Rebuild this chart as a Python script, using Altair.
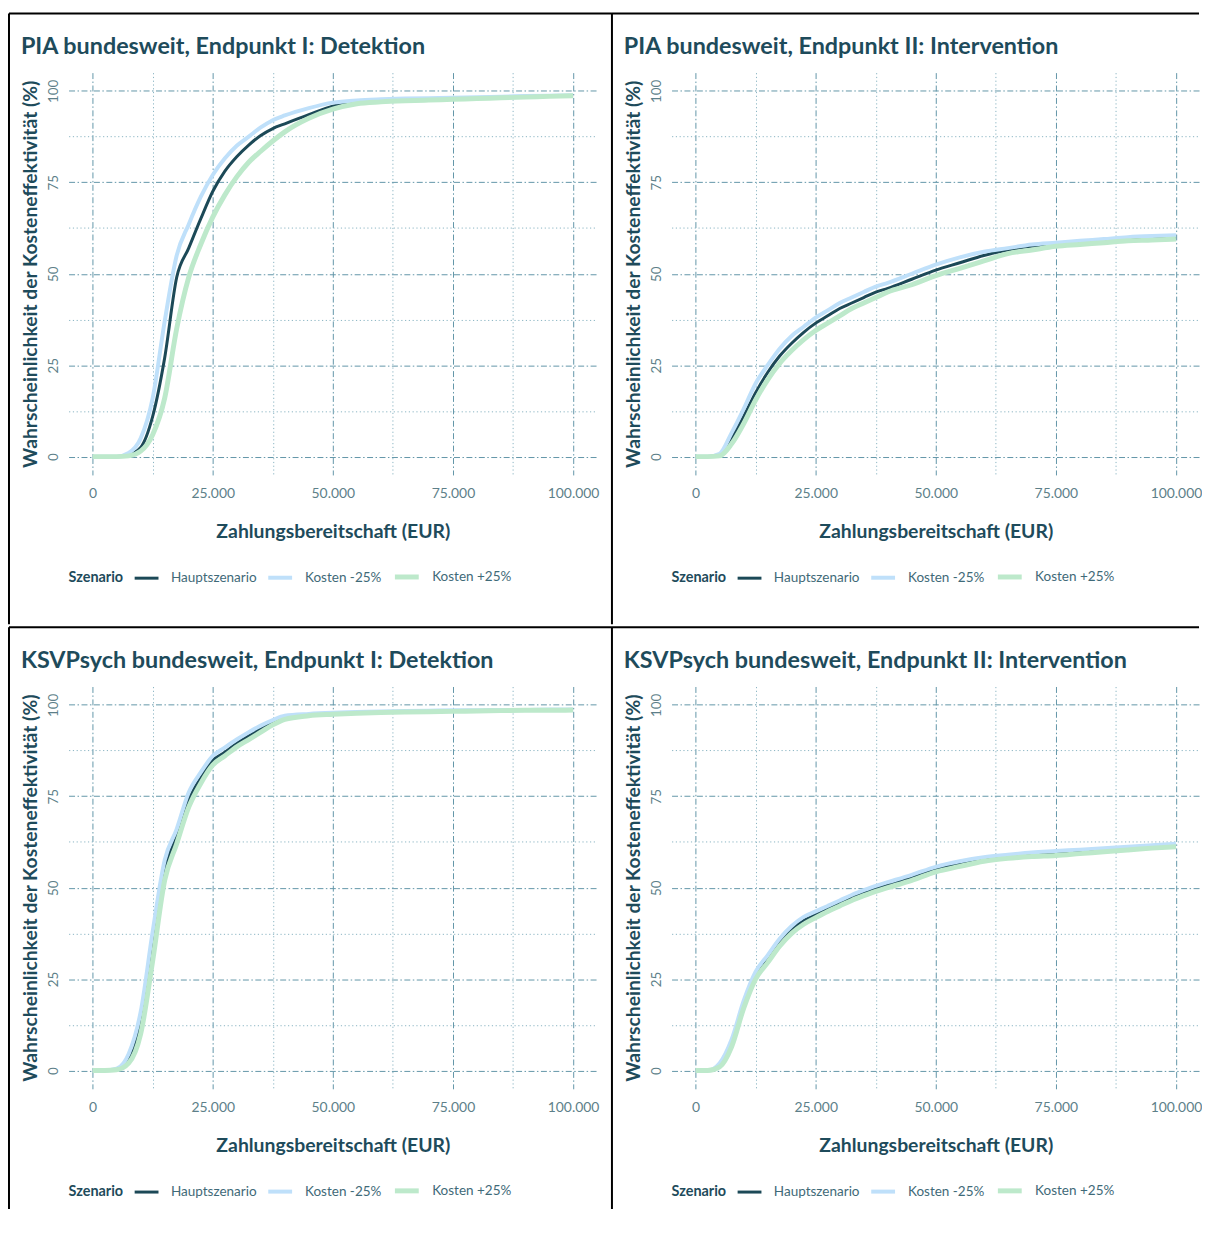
import altair as alt
import pandas as pd

# ---------------- data ----------------
X = [0, 2500, 5000, 7500, 10000, 12500, 15000, 17500, 20000, 22500, 25000,
     27500, 30000, 32500, 35000, 37500, 40000, 45000, 50000, 55000, 60000,
     65000, 70000, 75000, 80000, 85000, 90000, 95000, 100000]

SERIES = ["Hauptszenario", "Kosten -25%", "Kosten +25%"]

TITLES = [
    "PIA bundesweit, Endpunkt I: Detektion",
    "PIA bundesweit, Endpunkt II: Intervention",
    "KSVPsych bundesweit, Endpunkt I: Detektion",
    "KSVPsych bundesweit, Endpunkt II: Intervention",
]

# PIA, Endpunkt I
PIA_DET_HAUPT = [0, 0, 0, 0.5, 2.5, 11, 27, 49, 57, 65, 72.5, 78, 82, 85.2, 87.8, 89.7, 91,
                 93.5, 95.8, 96.8, 97.2, 97.5, 97.7, 97.9, 98.1, 98.3, 98.4, 98.6, 98.7]
PIA_DET_MINUS = [0, 0, 0, 1, 5, 16, 37, 55, 63.5, 71, 77, 81.5, 85, 87.5, 90, 92, 93.3,
                 95.3, 96.8, 97.4, 97.7, 97.9, 98.0, 98.1, 98.3, 98.4, 98.6, 98.7, 98.8]
PIA_DET_PLUS = [0, 0, 0, 0.2, 1.5, 6, 16, 35, 49, 58, 65.5, 71.5, 76.5, 80.5, 83.5, 86.3, 88.8,
                92.5, 95, 96.5, 97, 97.3, 97.5, 97.7, 97.9, 98.1, 98.3, 98.5, 98.7]

# PIA, Endpunkt II
PIA_INT_HAUPT = [0, 0, 0.5, 5, 11, 17.5, 23, 27.5, 31, 34, 36.5, 38.5, 40.5, 42, 43.5, 45, 46,
                 48.5, 51, 53, 55, 56.5, 57.5, 58, 58.5, 59, 59.2, 59.7, 60]
PIA_INT_MINUS = [0, 0, 0.8, 6.5, 13, 20, 25, 29.5, 33, 35.5, 38, 40, 42, 43.5, 45, 46.5, 47.5,
                 50, 52.5, 54.5, 56, 57, 58, 58.5, 59, 59.5, 60, 60.3, 60.5]
PIA_INT_PLUS = [0, 0, 0.2, 3.5, 9, 15.5, 21, 25.5, 29, 32, 34.5, 36.5, 38.5, 40.5, 42, 43.5, 45,
                47, 49.5, 51.5, 53.5, 55.5, 56.5, 57.5, 58, 58.5, 59, 59.2, 59.5]

# KSVPsych, Endpunkt I
KSV_DET_HAUPT = [0, 0, 0.3, 3, 13, 34, 55, 64, 74, 80, 84.8, 87, 89.5, 91.5, 93.5, 95.2, 96.5,
                 97.2, 97.5, 97.8, 98, 98.1, 98.2, 98.3, 98.4, 98.5, 98.5, 98.6, 98.6]
KSV_DET_MINUS = [0, 0, 0.5, 4.5, 16, 38, 57.5, 66, 76, 81.5, 86, 88.3, 90.5, 92.5, 94.3, 95.8, 97,
                 97.5, 97.8, 98, 98.2, 98.3, 98.4, 98.5, 98.5, 98.6, 98.6, 98.7, 98.7]
KSV_DET_PLUS = [0, 0, 0.2, 2, 10, 30, 52, 62, 72, 78.5, 83.5, 86, 88.5, 90.5, 92.5, 94.5, 96,
                97, 97.4, 97.7, 97.9, 98, 98.1, 98.2, 98.3, 98.4, 98.5, 98.5, 98.6]

# KSVPsych, Endpunkt II
KSV_INT_HAUPT = [0, 0, 1.5, 7.5, 18, 26, 30.5, 35, 38.5, 41, 42.6, 44.2, 45.8, 47.2, 48.5, 49.8, 50.7,
                 52.8, 55, 56.5, 57.8, 58.5, 59, 59.3, 59.8, 60.3, 60.8, 61.2, 61.5]
KSV_INT_MINUS = [0, 0, 2, 8.5, 19, 27, 31.5, 36, 39.5, 42, 43.5, 45, 46.5, 48, 49.3, 50.5, 51.5,
                 53.5, 55.7, 57.2, 58.3, 59, 59.6, 60, 60.4, 60.8, 61.2, 61.6, 62]
KSV_INT_PLUS = [0, 0, 1, 6.5, 17, 25, 29.5, 34, 37.5, 40, 41.8, 43.5, 45, 46.5, 47.8, 49, 50,
                52, 54.3, 55.8, 57.2, 58, 58.5, 58.8, 59.3, 59.8, 60.3, 60.8, 61.2]

X_TICKS = [0, 12500, 25000, 37500, 50000, 62500, 75000, 87500, 100000]
Y_TICKS = [0, 12.5, 25, 37.5, 50, 62.5, 75, 87.5, 100]

# ---------------- styling ----------------
FONT = "Lato"
DARK = "#1e4b5b"
LABEL = "#5d7f89"
LEG_LABEL = "#3f6a78"
COLORS = ["#1c4957", "#bfe0fa", "#bde9cb"]
WIDTHS = [3, 5, 5]
MAJOR = "#6396a8"
MINOR = "#8ab4c3"

W, H = 532, 405


def grid_dash(step):
    return {"condition": {"test": f"datum.value % {step} !== 0", "value": [1.2, 2.6]},
            "value": [6, 2.5, 1.5, 2.5]}


def grid_color(step):
    return {"condition": {"test": f"datum.value % {step} !== 0", "value": MINOR},
            "value": MAJOR}


x_axis = alt.Axis(
    values=X_TICKS,
    labelExpr="datum.value % 25000 === 0 ? replace(format(datum.value, ','), ',', '.') : ''",
    title="Zahlungsbereitschaft (EUR)",
    grid=True, gridDash=grid_dash(25000), gridColor=grid_color(25000), gridWidth=1,
    domain=False, ticks=False, tickSize=0,
    labelPadding=12, labelFontSize=14, labelColor=LABEL, labelFont=FONT,
    titleFontSize=19.5, titleFontWeight="bold", titleColor=DARK, titleFont=FONT,
    titleBaseline="top", titleY=48,
)

y_axis = alt.Axis(
    values=Y_TICKS,
    labelExpr="datum.value % 25 === 0 ? datum.label : ''",
    title="Wahrscheinlichkeit der Kosteneffektivität (%)",
    grid=True, gridDash=grid_dash(25), gridColor=grid_color(25), gridWidth=1,
    domain=False, ticks=False, tickSize=0,
    labelAngle=270, labelAlign="center", labelBaseline="bottom", labelPadding=8,
    labelFontSize=13.5, labelColor=LABEL, labelFont=FONT,
    titleAngle=270, titleAlign="center", titleBaseline="bottom", titleX=-28, titleY=H / 2,
    titleFontSize=19.4, titleFontWeight="bold", titleColor=DARK, titleFont=FONT,
)

legend = alt.Legend(
    orient="none", legendX=0, legendY=493, direction="horizontal",
    title="Szenario", titleOrient="left", titleFontSize=14.5, titleFontWeight="bold",
    titleColor=DARK, titleFont=FONT, titlePadding=10,
    titleAnchor="middle", titleBaseline="line-top", titleLineHeight=8.5,
    labelFontSize=13.6, labelColor=LEG_LABEL, labelFont=FONT, labelOffset=11,
    symbolType="stroke", symbolSize=576, columnPadding=3,
)


def panel(title, haupt, minus, plus, segs):
    rows = []
    for name, vals in zip(SERIES, [haupt, minus, plus]):
        for x, v in zip(X, vals):
            rows.append({"x": x, "y": v, "Szenario": name})
    df = pd.DataFrame(rows)
    lines = alt.Chart(df).mark_line(interpolate="monotone").encode(
        x=alt.X("x:Q", scale=alt.Scale(domain=[-5000, 105000], nice=False, zero=False), axis=x_axis),
        y=alt.Y("y:Q", scale=alt.Scale(domain=[-5, 105], nice=False, zero=False), axis=y_axis),
        color=alt.Color("Szenario:N", scale=alt.Scale(domain=SERIES, range=COLORS),
                        sort=SERIES, legend=legend),
        strokeWidth=alt.StrokeWidth("Szenario:N", scale=alt.Scale(domain=SERIES, range=WIDTHS),
                                    sort=SERIES, legend=legend),
    )
    one = pd.DataFrame({"k": [0]})
    layers = [lines]
    for (x1, y1, x2, y2) in segs:
        layers.append(
            alt.Chart(one).mark_rule(color="black", strokeWidth=2).encode(
                x=alt.value(x1), x2=alt.value(x2), y=alt.value(y1), y2=alt.value(y2)
            )
        )
    return alt.layer(*layers).properties(
        width=W, height=H,
        title=alt.TitleParams(
            text=title, anchor="start", frame="group", offset=0, dx=-48, dy=65,
            baseline="alphabetic", fontSize=23.5, fontWeight="bold", color=DARK, font=FONT,
        ),
    )


p1 = panel(TITLES[0], PIA_DET_HAUPT, PIA_DET_MINUS, PIA_DET_PLUS,
           [(-60, -59.6, -60, 555.4), (-60, -59.6, 547, -59.6)])
p2 = panel(TITLES[1], PIA_INT_HAUPT, PIA_INT_MINUS, PIA_INT_PLUS,
           [(-60, -59.6, -60, 555.4), (-60, -59.6, 531, -59.6)])
p3 = panel(TITLES[2], KSV_DET_HAUPT, KSV_DET_MINUS, KSV_DET_PLUS,
           [(-60, -59.6, -60, 526), (-60, -59.6, 547, -59.6)])
p4 = panel(TITLES[3], KSV_INT_HAUPT, KSV_INT_MINUS, KSV_INT_PLUS,
           [(-60, -59.6, -60, 526), (-60, -59.6, 531, -59.6)])

chart = alt.concat(
    p1, p2, p3, p4, columns=2, spacing={"row": 213, "column": 75}, bounds="flush"
).resolve_scale(
    color="independent", strokeWidth="independent"
).resolve_legend(
    color="independent", strokeWidth="independent"
).properties(
    padding={"left": 0, "top": 0, "right": 0, "bottom": 0}
).configure(
    font=FONT
).configure_view(
    strokeWidth=0
)

chart.save("out.html", embed_options={"renderer": "svg", "actions": False})
